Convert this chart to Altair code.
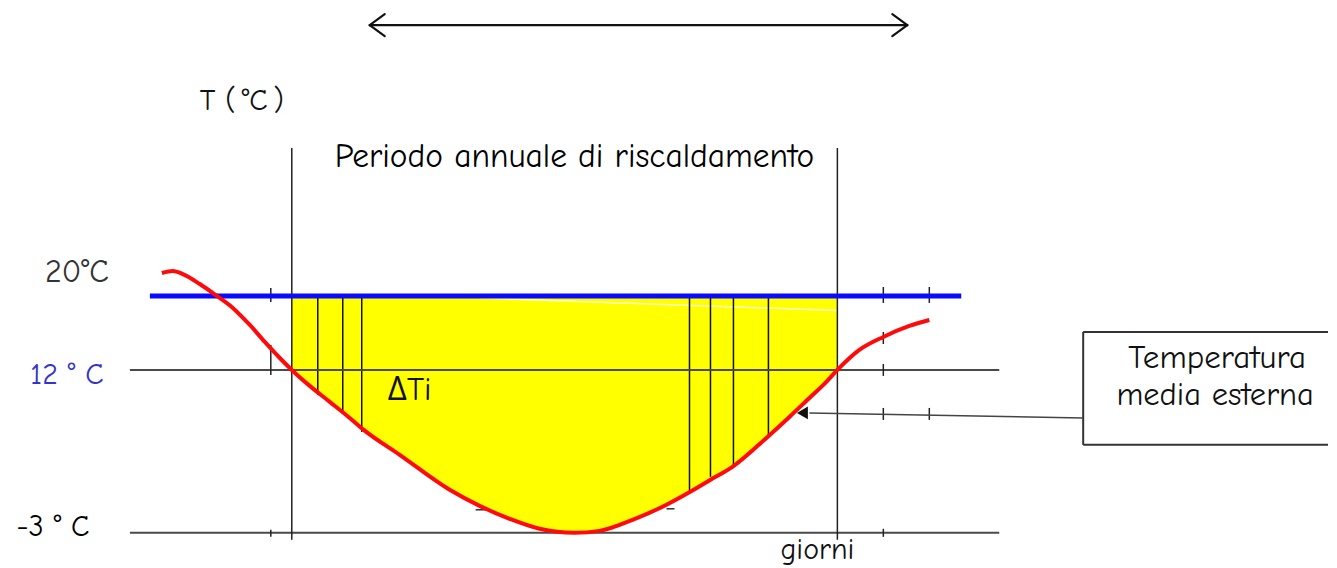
import altair as alt
import pandas as pd

# ---- data (x in days from start of heating period, y in degrees C) ----
X_DOMAIN = [-94.667, 345.667]
Y_DOMAIN = [-5.485, 45.313]

curve_days = [-43.33, -39.67, -36.33, -30.67, -25.0, -19.67, -14.0, -9.0, -4.0, 0.0,
              6.0, 12.67, 19.33, 24.0, 36.0, 52.67, 62.67, 72.67, 82.67, 94.33,
              102.67, 113.67, 125.0, 132.33, 139.67, 147.0, 158.33, 166.0, 172.67, 177.67, 182.0,
              189.33, 197.33, 206.0, 212.67]
curve_temp = [20.93, 21.11, 20.83, 19.91, 18.81, 17.71, 16.14, 14.58, 13.10, 12.0,
              10.53, 9.06, 7.58, 6.48, 4.18, 0.96, -0.52, -1.71, -2.63, -3.0,
              -2.82, -1.80, -0.42, 0.68, 1.88, 3.07, 5.74, 7.67, 9.42, 10.71, 12.0,
              13.84, 15.04, 16.05, 16.60]

heat_start, heat_end = 0.0, 182.0
t_inside = 18.81
blue_x = [-47.33, 223.33]
hline_x = [-54.0, 236.0]
hline_t = [12.0, -3.0]
vline_top, vline_bottom = 32.43, -3.64

hatch_x = [8.67, 17.0, 23.33, 132.67, 139.67, 147.33, 159.0]
hatch_bottom = [9.70, 8.04, 6.29, 0.77, 2.15, 3.17, 6.0]

# small tick marks: x, y_from, y_to
tick_x = [-7.0, -7.0, -7.0, 197.33, 212.67, 197.33, 197.33, 197.33, 212.67, 197.33]
tick_y1 = [19.55, 14.30, -2.72, 19.64, 19.64, 15.50, 12.55, 8.50, 8.50, -2.63]
tick_y2 = [18.26, 11.54, -3.37, 18.17, 18.17, 14.39, 11.45, 7.40, 7.40, -3.37]

# tiny dashes just under the curve near the bottom: x_from, x_to, y
dash_x1 = [61.33, 125.0]
dash_x2 = [65.33, 127.67]
dash_t = [-0.88, -0.79]

# top double arrow
arrow_x = [26.0, 205.33]
arrow_t = 43.75
arm_dx = 5.0
arm_up, arm_dn = 44.76, 42.74

# annotation box + pointer
box_left, box_top, box_bottom = 264.0, 15.50, 5.10
pointer_x = [264.0, 172.67]
pointer_t = [7.58, 8.04]
pointer_head = (170.33, 8.04)

labels = ["T (\u2009°C\u2009)", "Periodo annuale di riscaldamento", "20°C", "12 ° C", "-3 ° C",
          "ΔTi", "giorni", "Temperatura", "media esterna"]
label_x = [-16.67, 94.33, -71.67, -75.0, -79.67, 39.33, 175.33, 308.67, 308.0]
label_t = [36.75, 31.60, 21.02, 11.54, -2.45, 10.16, -4.62, 13.10, 9.70]
label_size = [30, 33.5, 32, 30, 30, 33, 30, 33, 32.5]
label_color = ["#111111", "#000000", "#333333", "#3333cc", "#000000",
               "#111111", "#111111", "#111111", "#111111"]

FONT = "Comic Sans MS, Comic Neue, Open Sans"

xs = alt.Scale(domain=X_DOMAIN, nice=False, zero=False)
ys = alt.Scale(domain=Y_DOMAIN, nice=False, zero=False)


def X(f="x"):
    return alt.X(f, type="quantitative", scale=xs, axis=None)


def Y(f="y"):
    return alt.Y(f, type="quantitative", scale=ys, axis=None)


curve = pd.DataFrame({"x": curve_days, "y": curve_temp})
fill_df = curve[(curve.x >= heat_start) & (curve.x <= heat_end)].copy()
fill_df["y2"] = t_inside

fill = alt.Chart(fill_df).mark_area(color="#ffff00", interpolate="monotone").encode(
    x=X(), y=Y(), y2="y2")

# faint white streak inside the fill
streak = alt.Chart(pd.DataFrame({"x": [62.67], "x2": [196.0], "y": [18.63], "y2": [17.34]})).mark_rule(
    color="white", strokeWidth=1.5, opacity=0.8).encode(x=X(), x2="x2", y=Y(), y2="y2")

hatch = alt.Chart(pd.DataFrame({"x": hatch_x, "y": [t_inside] * len(hatch_x), "y2": hatch_bottom})).mark_rule(
    color="#111111", strokeWidth=1.5).encode(x=X(), y=Y(), y2="y2")

hlines = alt.Chart(pd.DataFrame({"x": [hline_x[0]] * 2, "x2": [hline_x[1]] * 2, "y": hline_t})).mark_rule(
    color="#4a4a4a", strokeWidth=2).encode(x=X(), x2="x2", y=Y())

vlines = alt.Chart(pd.DataFrame({"x": [heat_start, heat_end], "y": [vline_top] * 2, "y2": [vline_bottom] * 2})).mark_rule(
    color="#222222", strokeWidth=1.5).encode(x=X(), y=Y(), y2="y2")

ticks = alt.Chart(pd.DataFrame({"x": tick_x, "y": tick_y1, "y2": tick_y2})).mark_rule(
    color="#222222", strokeWidth=1.5).encode(x=X(), y=Y(), y2="y2")

dashes = alt.Chart(pd.DataFrame({"x": dash_x1, "x2": dash_x2, "y": dash_t})).mark_rule(
    color="#333333", strokeWidth=1.5).encode(x=X(), x2="x2", y=Y())

blue = alt.Chart(pd.DataFrame({"x": [blue_x[0]], "x2": [blue_x[1]], "y": [t_inside]})).mark_rule(
    color="#0a0aff", strokeWidth=5).encode(x=X(), x2="x2", y=Y())

red = alt.Chart(curve).mark_line(color="#ff0a0a", strokeWidth=4, interpolate="monotone").encode(
    x=X(), y=Y())

arrow_segs = pd.DataFrame({
    "x": [arrow_x[0], arrow_x[0], arrow_x[0], arrow_x[1], arrow_x[1]],
    "x2": [arrow_x[1], arrow_x[0] + arm_dx, arrow_x[0] + arm_dx, arrow_x[1] - arm_dx, arrow_x[1] - arm_dx],
    "y": [arrow_t] * 5,
    "y2": [arrow_t, arm_up, arm_dn, arm_up, arm_dn],
})
top_arrow = alt.Chart(arrow_segs).mark_rule(color="#111111", strokeWidth=2.2, strokeCap="round").encode(
    x=X(), x2="x2", y=Y(), y2="y2")

box_segs = pd.DataFrame({
    "x": [box_left, box_left, box_left],
    "x2": [box_left, X_DOMAIN[1], X_DOMAIN[1]],
    "y": [box_top, box_top, box_bottom],
    "y2": [box_bottom, box_top, box_bottom],
})
box = alt.Chart(box_segs).mark_rule(color="#333333", strokeWidth=2).encode(
    x=X(), x2="x2", y=Y(), y2="y2")

pointer = alt.Chart(pd.DataFrame({"x": [pointer_x[0]], "x2": [pointer_x[1]], "y": [pointer_t[0]], "y2": [pointer_t[1]]})).mark_rule(
    color="#444444", strokeWidth=1.6).encode(x=X(), x2="x2", y=Y(), y2="y2")

head = alt.Chart(pd.DataFrame({"x": [pointer_head[0]], "y": [pointer_head[1]]})).mark_point(
    shape="triangle-left", filled=True, size=160, color="#111111", opacity=1).encode(x=X(), y=Y())

text_df = pd.DataFrame({"x": label_x, "y": label_t, "label": labels, "size": label_size, "color": label_color})
texts = alt.Chart(text_df).mark_text(font=FONT, align="center", baseline="middle").encode(
    x=X(), y=Y(), text="label:N",
    size=alt.Size("size:Q", scale=None, legend=None),
    color=alt.Color("color:N", scale=None, legend=None))

chart = alt.layer(fill, streak, hatch, hlines, vlines, ticks, dashes, blue, red, top_arrow, box, pointer, head, texts).properties(
    width=1321, height=552, padding=0, background="white"
).configure_view(strokeWidth=0)

chart.save("out.html", embed_options={"renderer": "svg", "actions": False})
